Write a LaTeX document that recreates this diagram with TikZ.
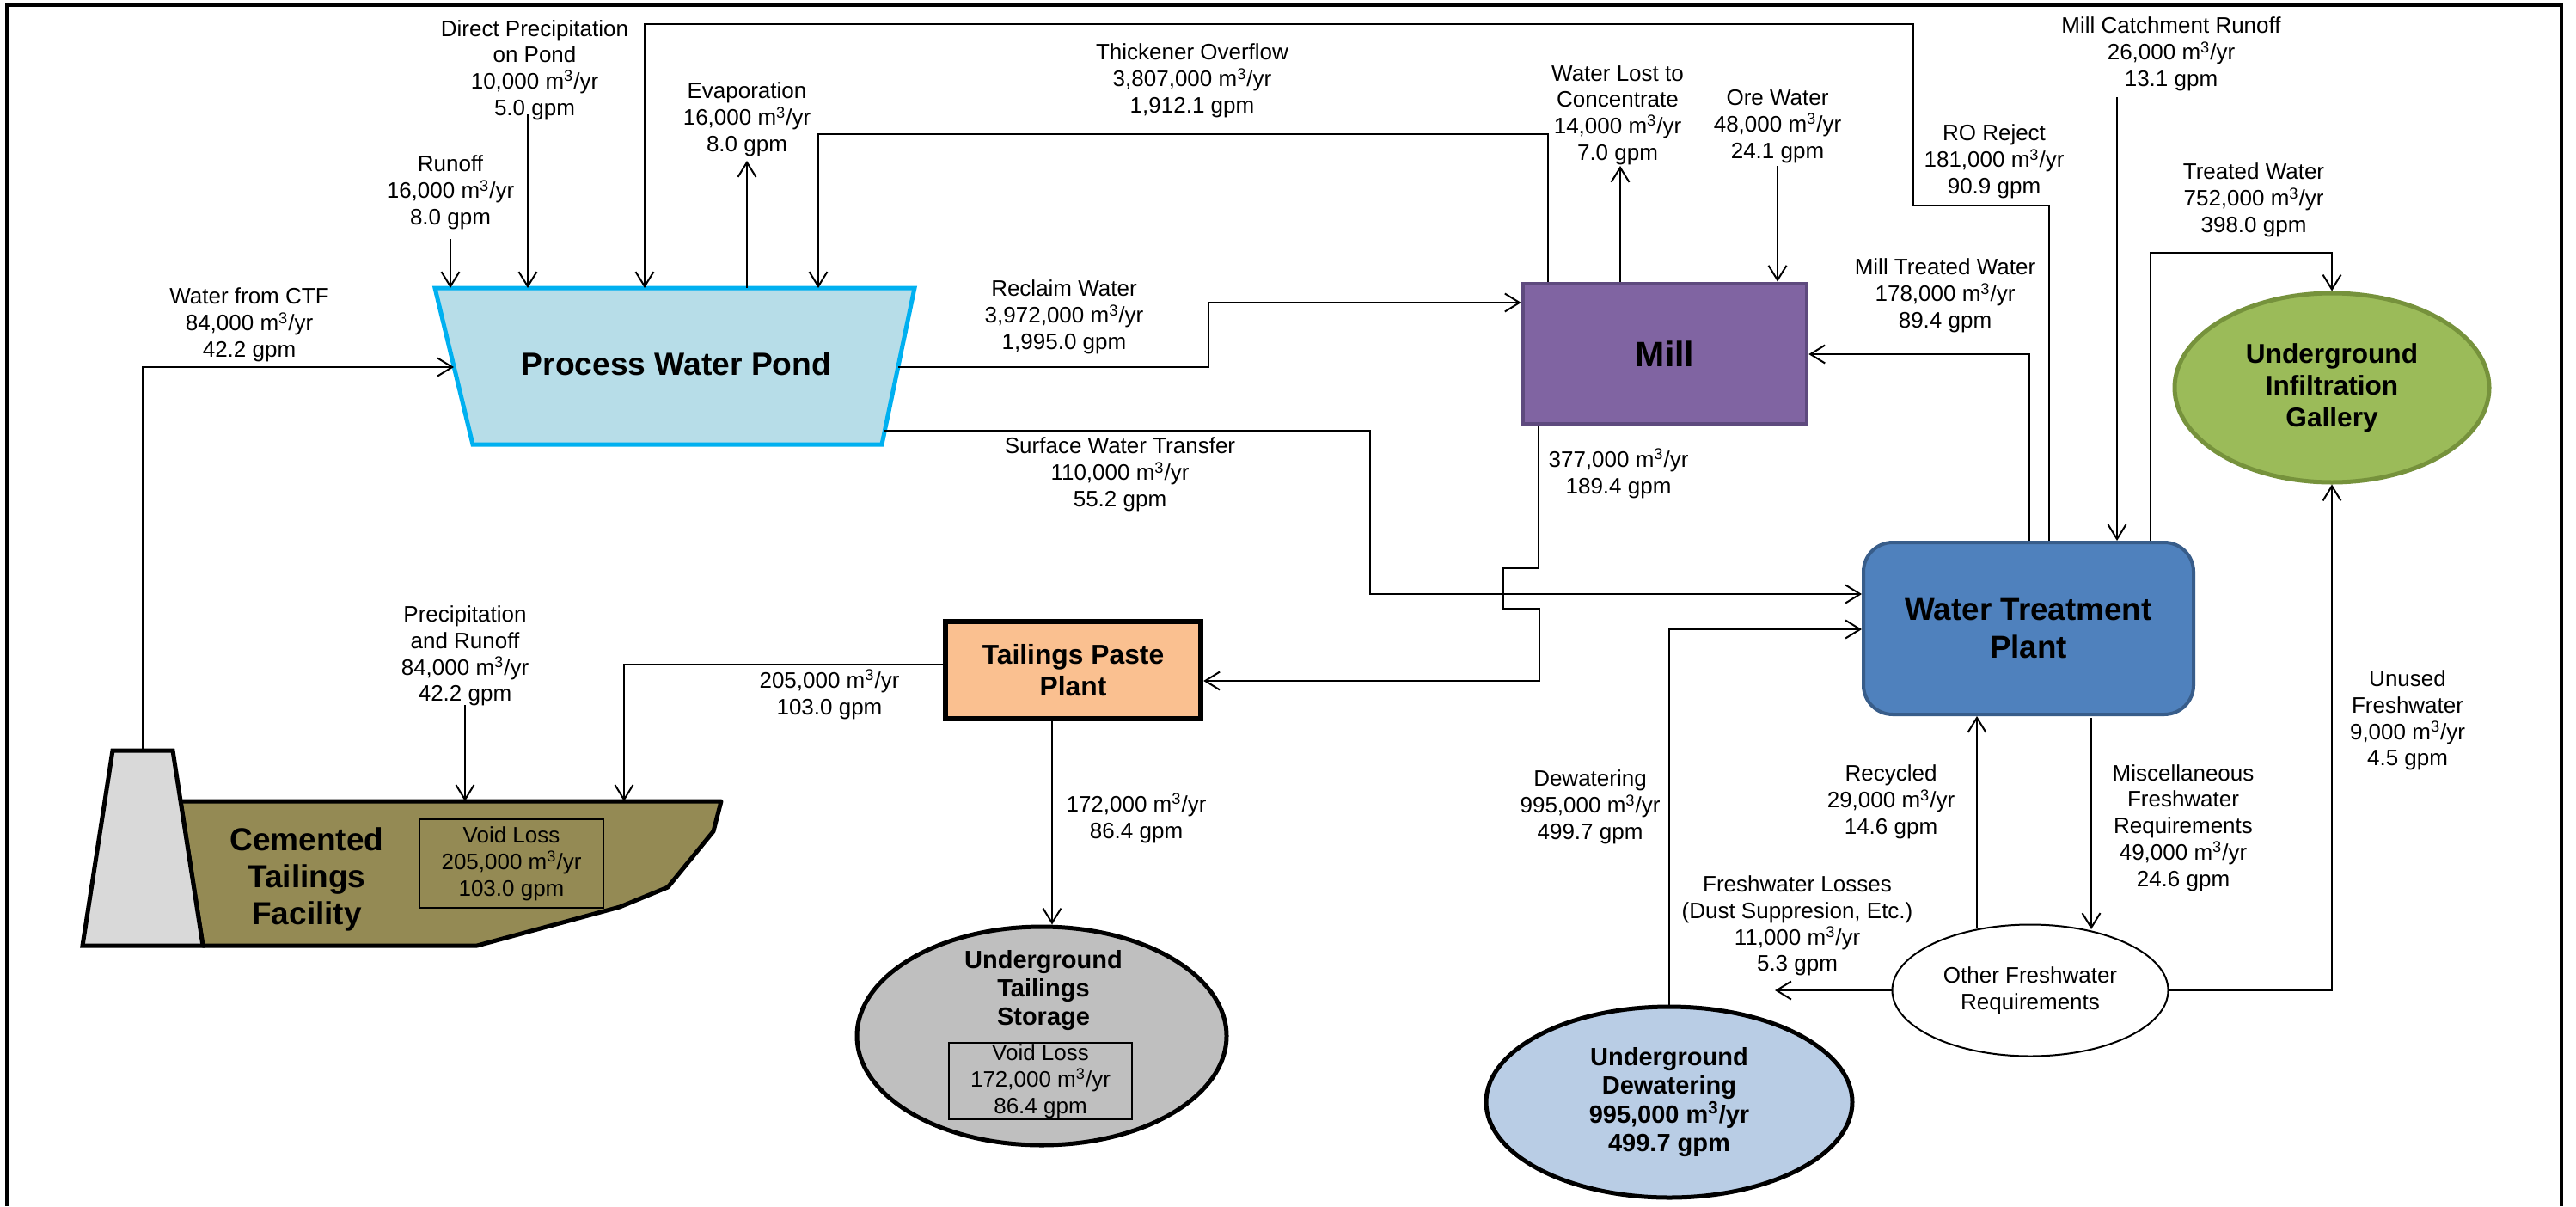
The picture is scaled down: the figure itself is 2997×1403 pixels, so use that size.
\documentclass[tikz,border=0pt]{standalone}
\usepackage{fontspec}
\setmainfont{Liberation Sans}
\usetikzlibrary{arrows.meta,shapes.geometric}
\definecolor{pondfill}{HTML}{B7DDE8}
\definecolor{pondline}{HTML}{00B0F0}
\definecolor{millfill}{HTML}{8064A2}
\definecolor{millline}{HTML}{5E4A7E}
\definecolor{wtpfill}{HTML}{4F81BD}
\definecolor{wtpline}{HTML}{385D8A}
\definecolor{galfill}{HTML}{9BBB59}
\definecolor{galline}{HTML}{76923C}
\definecolor{tppfill}{HTML}{FAC090}
\definecolor{ctffill}{HTML}{948A54}
\definecolor{damfill}{HTML}{D9D9D9}
\definecolor{utsfill}{HTML}{BFBFBF}
\definecolor{udfill}{HTML}{B9CDE5}
\newcommand{\mcy}{m\textsuperscript{3}/yr}
\begin{document}
\begin{tikzpicture}[x=0.5pt,y=-0.5pt,
  lbl/.style={align=center,inner sep=0pt,font=\fontsize{13}{15.4}\selectfont},
  arr/.style={line width=1pt,-{Straight Barb[length=8.5pt,width=10.5pt]}},
  conn/.style={line width=1pt},
  titlefont/.style={font=\bfseries\fontsize{#1}{1.17*#1}\selectfont}]
\useasboundingbox (0,0) rectangle (2997,1403);
% frame
\draw[line width=2pt] (8,1403) -- (8,6) -- (2980,6) -- (2980,1403);

% Process water pond
\draw[fill=pondfill,draw=pondline,line width=2.5pt] (506,335) -- (1064,335) -- (1026,517) -- (550,517) -- cycle;
\node[font=\bfseries\fontsize{18.6}{22}\selectfont] (pond) at (787,423) {Process Water Pond};

% Cemented tailings facility
\draw[fill=ctffill,line width=2.5pt,line join=round] (210,932) -- (839,932) -- (830,967) -- (777,1032) -- (721,1055) -- (555,1100) -- (236,1100) -- cycle;
\draw[fill=damfill,line width=2.5pt] (131,873) -- (201,873) -- (236,1100) -- (96,1100) -- cycle;
\node[font=\bfseries\fontsize{18.5}{21.7}\selectfont,align=center] (ctf) at (357,1023) {Cemented\\Tailings\\Facility};
\node[draw,line width=0.8pt,minimum width=107pt,minimum height=51.5pt,lbl] (ctfvoid) at (595,1004.5) {Void Loss\\205,000 \mcy\\103.0 gpm};

% main nodes
\node[draw=millline,fill=millfill,line width=2.3pt,minimum width=165pt,minimum height=81.5pt,inner sep=0pt,font=\bfseries\fontsize{20.5}{24}\selectfont] (mill) at (1937,411.5) {Mill};
\node[draw=wtpline,fill=wtpfill,line width=2pt,rounded corners=17pt,minimum width=192pt,minimum height=100pt,inner sep=0pt,align=center,font=\bfseries\fontsize{18.4}{21.7}\selectfont] (wtp) at (2360,731) {Water Treatment\\Plant};
\node[draw,fill=tppfill,line width=3.2pt,minimum width=148.5pt,minimum height=56.5pt,inner sep=0pt,align=center,font=\bfseries\fontsize{15.9}{18.5}\selectfont] (tpp) at (1248.5,779.5) {Tailings Paste\\Plant};
\node[ellipse,draw=galline,fill=galfill,line width=2.5pt,minimum width=183pt,minimum height=110pt,inner sep=0pt,align=center,font=\bfseries\fontsize{15.8}{18.5}\selectfont] (gal) at (2713,451) {Underground\\Infiltration\\Gallery};
\node[ellipse,draw,fill=utsfill,line width=2.5pt,minimum width=215pt,minimum height=127pt,inner sep=0pt] (uts) at (1212,1205) {};
\node[font=\bfseries\fontsize{14.5}{16.7}\selectfont,align=center] (utstext) at (1214,1152) {Underground\\Tailings\\Storage};
\node[draw,line width=0.8pt,minimum width=106.5pt,minimum height=44.5pt,lbl] (utsvoid) at (1210.5,1257.5) {Void Loss\\172,000 \mcy\\86.4 gpm};
\node[ellipse,draw,fill=udfill,line width=2.5pt,minimum width=213pt,minimum height=111pt,inner sep=0pt,align=center,font=\bfseries\fontsize{14.5}{16.7}\selectfont] (ud) at (1942,1282) {Underground\\Dewatering\\995,000 \mcy\\499.7 gpm};
\node[ellipse,draw,fill=white,line width=1pt,minimum width=160.5pt,minimum height=76.5pt,lbl] (ofr) at (2362,1152) {Other Freshwater\\Requirements};

% flow labels
\node[lbl] (lDP) at (622,81.5) {Direct Precipitation\\on Pond\\10,000 \mcy\\5.0 gpm};
\node[lbl] (lRun) at (524,224) {Runoff\\16,000 \mcy\\8.0 gpm};
\node[lbl] (lEvap) at (869,139) {Evaporation\\16,000 \mcy\\8.0 gpm};
\node[lbl] (lCTF) at (290,378) {Water from CTF\\84,000 \mcy\\42.2 gpm};
\node[lbl] (lThk) at (1387,94) {Thickener Overflow\\3,807,000 \mcy\\1,912.1 gpm};
\node[lbl] (lRec) at (1238,369) {Reclaim Water\\3,972,000 \mcy\\1,995.0 gpm};
\node[lbl] (lWL) at (1882,134) {Water Lost to\\Concentrate\\14,000 \mcy\\7.0 gpm};
\node[lbl] (lOre) at (2068,147) {Ore Water\\48,000 \mcy\\24.1 gpm};
\node[lbl] (lRO) at (2320,188) {RO Reject\\181,000 \mcy\\90.9 gpm};
\node[lbl] (lMCR) at (2526,63) {Mill Catchment Runoff\\26,000 \mcy\\13.1 gpm};
\node[lbl] (lTW) at (2622,233) {Treated Water\\752,000 \mcy\\398.0 gpm};
\node[lbl] (lMTW) at (2263,344) {Mill Treated Water\\178,000 \mcy\\89.4 gpm};
\node[lbl] (lSW) at (1303,552) {Surface Water Transfer\\110,000 \mcy\\55.2 gpm};
\node[lbl] (l377) at (1883,551) {377,000 \mcy\\189.4 gpm};
\node[lbl] (lPR) at (541,763) {Precipitation\\and Runoff\\84,000 \mcy\\42.2 gpm};
\node[lbl] (l205) at (965,808) {205,000 \mcy\\103.0 gpm};
\node[lbl] (l172) at (1322,952) {172,000 \mcy\\86.4 gpm};
\node[lbl] (lDW) at (1850,939) {Dewatering\\995,000 \mcy\\499.7 gpm};
\node[lbl] (lRcy) at (2200,933) {Recycled\\29,000 \mcy\\14.6 gpm};
\node[lbl] (lMisc) at (2540,963) {Miscellaneous\\Freshwater\\Requirements\\49,000 \mcy\\24.6 gpm};
\node[lbl] (lUn) at (2801,838) {Unused\\Freshwater\\9,000 \mcy\\4.5 gpm};
\node[lbl] (lFL) at (2091,1077) {Freshwater Losses\\(Dust Suppresion, Etc.)\\11,000 \mcy\\5.3 gpm};

% connection points
\coordinate (pondRunoff) at (524,335);
\coordinate (pondDP) at (614,335);
\coordinate (pondRO) at (750,335);
\coordinate (pondEvap) at (869,335);
\coordinate (pondThick) at (952,335);
\coordinate (pondCTF) at (528,427);
\coordinate (pondReclaim) at (1045,427);
\coordinate (pondSurf) at (1029,501);
\coordinate (runoffEnd) at (524,278);
\coordinate (dpEnd) at (614,133);
\coordinate (evapEnd) at (869,187);
\coordinate (wlEnd) at (1885,193);
\coordinate (oreEnd) at (2068,193);
\coordinate (mcrEnd) at (2463,113);
\coordinate (prEnd) at (541,820);
\coordinate (flEnd) at (2065,1152);
\coordinate (damTop) at (166,873);
\coordinate (ctfPR) at (541,932);
\coordinate (ctfTPP) at (726,932);
\coordinate (roC1) at (2384,239);
\coordinate (roC2) at (2226,28);
\coordinate (thkC) at (1801,156);
\coordinate (recC) at (1406,352);
\coordinate (mtwC) at (2361,412);
\coordinate (twC) at (2502,294);
\coordinate (swC) at (1594,691);
\coordinate (n1) at (1790,661);
\coordinate (n2) at (1749,708);
\coordinate (n3) at (1791,792);
\coordinate (c205) at (726,773);
\coordinate (q172) at (1224,836);
\coordinate (dwC) at (1942,732);
\coordinate (recyS) at (2300,1080);
\coordinate (miscS) at (2433,835);
\coordinate (miscE) at (2433,1081);

% connectors
\draw[arr] (runoffEnd) -- (pondRunoff);
\draw[arr] (dpEnd) -- (pondDP);
\draw[arr] (roC1 |- wtp.north) -- (roC1) -| (roC2) -| (pondRO);
\draw[arr] (pondEvap) -- (evapEnd);
\draw[arr] (thkC |- mill.north) -- (thkC) -| (pondThick);
\draw[arr] (damTop) |- (pondCTF);
\draw[arr] (pondReclaim) -| (recC) -- (recC -| mill.west);
\draw[arr] (wlEnd |- mill.north) -- (wlEnd);
\draw[arr] (oreEnd) -- (oreEnd |- mill.north);
\draw[arr] (mtwC |- wtp.north) -- (mtwC) -- (mtwC -| mill.east);
\draw[arr] (mcrEnd) -- (mcrEnd |- wtp.north);
\draw[arr] (twC |- wtp.north) -- (twC) -| (gal.north);
\draw[arr] (pondSurf) -| (swC) -- (swC -| wtp.west);
\draw[arr] (n1 |- mill.south) -- (n1) -| (n2) -- (n2 -| n3) -- (n3) -- (n3 -| tpp.east);
\draw[arr] (c205 -| tpp.west) -- (c205) -- (ctfTPP);
\draw[arr] (prEnd) -- (ctfPR);
\draw[arr] (q172 |- tpp.south) -- (q172 |- uts.north);
\draw[arr] (ud.north) |- (wtp.west |- dwC);
\draw[arr] (recyS) -- (recyS |- wtp.south);
\draw[arr] (miscS) -- (miscE);
\draw[arr] (ofr.west) -- (flEnd);
\draw[arr] (ofr.east) -| (gal.south);
\end{tikzpicture}
\end{document}
